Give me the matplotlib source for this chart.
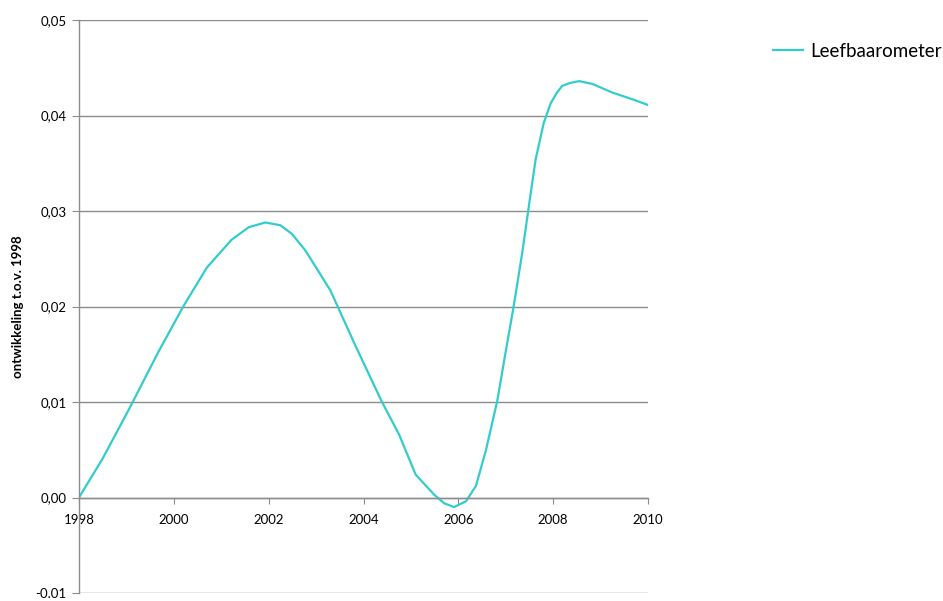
import matplotlib
matplotlib.use('Agg')
import matplotlib.pyplot as plt

# jaren (x) en waarden (y)
jaar = [1998.00, 1998.49, 1999.05, 1999.68, 2000.21, 2000.70, 2001.22, 2001.58,
        2001.93, 2002.25, 2002.49, 2002.77, 2003.30, 2003.82, 2004.38, 2004.75,
        2005.10, 2005.49, 2005.70, 2005.91, 2006.16, 2006.37, 2006.58, 2006.82,
        2007.00, 2007.17, 2007.35, 2007.49, 2007.63, 2007.80, 2007.95, 2008.08,
        2008.19, 2008.35, 2008.55, 2008.83, 2009.25, 2009.67, 2010.00]
leefbaarometer = [0.0000, 0.0040, 0.0092, 0.0153, 0.0201, 0.0241, 0.0270, 0.0283,
                  0.0288, 0.0285, 0.0276, 0.0259, 0.0217, 0.0160, 0.0101, 0.0066,
                  0.0024, 0.0003, -0.0006, -0.0010, -0.0004, 0.0012, 0.0049, 0.0101,
                  0.0153, 0.0201, 0.0257, 0.0306, 0.0354, 0.0392, 0.0413, 0.0424,
                  0.0431, 0.0434, 0.0436, 0.0433, 0.0424, 0.0417, 0.0411]

xticks = [1998, 2000, 2002, 2004, 2006, 2008, 2010]
yticks = [-0.01, 0.0, 0.01, 0.02, 0.03, 0.04, 0.05]
ylabels = ['-0.01', '0,00', '0,01', '0,02', '0,03', '0,04', '0,05']

plt.rcParams['font.family'] = ['Lato', 'DejaVu Sans']
grey = '#8c8c8c'

fig = plt.figure(figsize=(9.43, 6.01), dpi=100)
ax = fig.add_axes([79 / 943, 8 / 601, 569 / 943, 573 / 601])

ax.plot(jaar, leefbaarometer, color='#33cccc', linewidth=1.6, label='Leefbaarometer')

ax.set_xlim(1998, 2010)
ax.set_ylim(-0.01, 0.05)
ax.set_xticks(xticks)
ax.set_yticks(yticks)
ax.set_yticklabels(ylabels)

ax.grid(axis='y', color=grey, linewidth=1)
ax.set_axisbelow(True)

for s in ['top', 'right']:
    ax.spines[s].set_visible(False)
ax.spines['bottom'].set_position(('data', 0))
ax.spines['bottom'].set_color(grey)
ax.spines['left'].set_color(grey)
ax.spines['bottom'].set_linewidth(1)
ax.spines['left'].set_linewidth(1)

ax.tick_params(axis='x', direction='out', length=4, color=grey, labelsize=9.5, pad=8)
ax.tick_params(axis='y', direction='out', length=5, color=grey, labelsize=9.5, pad=4)

ax.set_ylabel('ontwikkeling t.o.v. 1998', fontsize=9.5, fontweight='bold', labelpad=8)

ax.legend(loc='center left', bbox_to_anchor=(1.19, 0.945), frameon=False,
          fontsize=13.5, handlelength=1.6, handletextpad=0.4)

fig.savefig('out.png', dpi=100)
